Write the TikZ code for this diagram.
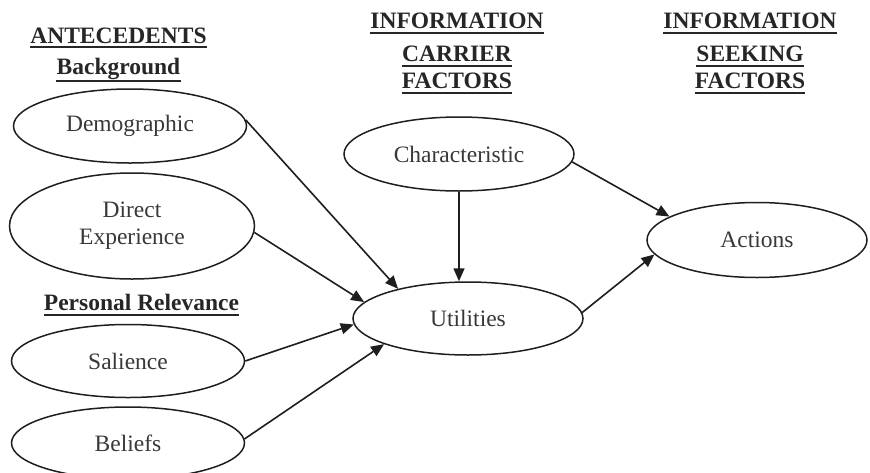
\documentclass[tikz,border=0pt]{standalone}
\usepackage{fontspec}
\setmainfont{Liberation Serif}
\usetikzlibrary{shapes.geometric,arrows.meta}
\definecolor{ink}{HTML}{1E1E1E}
\definecolor{txt}{HTML}{383838}
\definecolor{hd}{HTML}{262626}
\begin{document}
\begin{tikzpicture}[x=1pt,y=-1pt,
  font=\fontsize{23.5}{27}\selectfont,
  oval/.style={ellipse,draw=ink,line width=1.5pt,inner sep=0pt,text=txt,align=center},
  hdr/.style={font=\fontsize{23.5}{27}\selectfont\bfseries,text=hd,inner sep=0pt,anchor=base},
  ul/.style={line width=1.5pt,draw=hd},
  link/.style={draw=ink,line width=1.6pt,-{Triangle[length=13pt,width=11pt]}}]
\useasboundingbox (0,0) rectangle (870,472);
\begin{scope}
\clip (0,0) rectangle (870,472);

% section headings, each line underlined
\foreach \n/\x/\y/\d/\t in {
    ant/118.5/43/3.8/ANTECEDENTS,
    bkg/118.5/74/7/Background,
    rel/141.5/310.5/4.5/Personal Relevance,
    ca/457/28/5/INFORMATION,
    cb/457/61/5/CARRIER,
    cc/457/88/5/FACTORS,
    sa/750/28/5/INFORMATION,
    sb/750/61/5/SEEKING,
    sc/750/88/5/FACTORS}{
  \node[hdr] (\n) at (\x,\y) {\t};
  \draw[ul] ([yshift=-\d pt]\n.base west) -- ([yshift=-\d pt]\n.base east);
}

% antecedents
\node[oval,minimum width=233pt,minimum height=74pt] (dem) at (130,126) {Demographic};
\node[oval,minimum width=245pt,minimum height=106pt] (dir) at (132,226) {Direct\\Experience};
\node[oval,minimum width=233pt,minimum height=73pt] (sal) at (128,361) {Salience};
\node[oval,minimum width=233pt,minimum height=72pt] (bel) at (128,443) {Beliefs};

% carrier and seeking factors
\node[oval,minimum width=230pt,minimum height=74pt] (cha) at (459,154) {Characteristic};
\node[oval,minimum width=230pt,minimum height=73pt] (uti) at (468,318.5) {Utilities};
\node[oval,minimum width=220pt,minimum height=75pt] (act) at (757,240) {Actions};

% influences
\draw[link] (dem.3) -- (uti.157);
\draw[link] (dir.-3.7) -- (uti.171.7);
\draw[link] (sal.0.5) -- (uti.183.2);
\draw[link] (bel.2.4) -- (uti.197.3);
\draw[link] (cha.south) -- (cha.south |- uti.north);
\draw[link] (cha.-4.5) -- (act.165.5);
\draw[link] (uti.3.2) -- (act.188.4);
\end{scope}
\end{tikzpicture}
\end{document}
